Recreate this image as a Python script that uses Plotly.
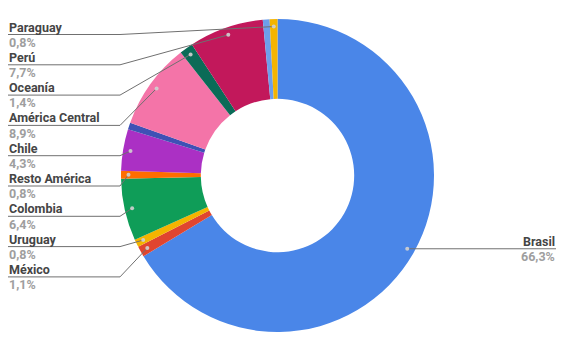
import math
import plotly.graph_objects as go

# ---- data ----
labels = ["Brasil", "México", "Uruguay", "Colombia", "Resto América", "Chile",
          "Otros (1)", "América Central", "Oceanía", "Perú", "Otros (2)", "Paraguay"]
values = [66.3, 1.1, 0.8, 6.4, 0.8, 4.3, 0.7, 8.9, 1.4, 7.7, 0.7, 0.8]
show_label = [True, True, True, True, True, True, False, True, True, True, False, True]
colors = ["#4a86e8", "#e0452f", "#f4b400", "#0f9d58", "#ff6d00", "#ab30c4",
          "#3f51b5", "#f474a8", "#0b6b57", "#c2185b", "#6d9eeb", "#f4b400"]

W, H = 568, 341
CX, CY, R = 277.5, 175.5, 156.5
HOLE = 0.49
DOT_R = 149

fig = go.Figure()
fig.add_trace(go.Pie(
    labels=labels, values=values, sort=False, direction="clockwise", rotation=0,
    hole=HOLE, marker=dict(colors=colors, line=dict(width=0)),
    textinfo="none", hoverinfo="label+percent", showlegend=False,
    domain=dict(x=[(CX - R) / W, (CX + R) / W], y=[(H - CY - R) / H, (H - CY + R) / H]),
))

# invisible pixel axes for overlay
fig.add_trace(go.Scatter(x=[0, W], y=[0, H], mode="markers", marker=dict(opacity=0),
                         hoverinfo="skip", showlegend=False))

total = sum(values)
cum = 0.0
dots = []
for lab, v, sh in zip(labels, values, show_label):
    frac = (cum + v / 2) / total
    th = 2 * math.pi * frac
    dots.append((lab, v, sh, CX + DOT_R * math.sin(th), CY - DOT_R * math.cos(th)))
    cum += v

def pct(v):
    return f"{v:.1f}".replace(".", ",") + "%"

shapes = []
annotations = []
LINE = "#707070"
NAME_C = "#454545"
PCT_C = "#9e9e9e"
FONT = "Roboto"
FS = 12.5
N_OFF, P_OFF = -7.5, 7.8

left = [d for d in dots if d[2] and d[3] < CX]
right = [d for d in dots if d[2] and d[3] >= CX]
left.sort(key=lambda d: d[4])

def add_label(x, ly, anchor, lab, v):
    annotations.append(dict(x=x, y=ly + N_OFF, xref="x", yref="y", xanchor=anchor, yanchor="middle",
                            text=f"<b>{lab}</b>", showarrow=False, borderpad=0,
                            font=dict(family=FONT, size=FS, color=NAME_C)))
    annotations.append(dict(x=x, y=ly + P_OFF, xref="x", yref="y", xanchor=anchor, yanchor="middle",
                            text=f"<b>{pct(v)}</b>", showarrow=False, borderpad=0,
                            font=dict(family=FONT, size=FS, color=PCT_C)))

for i, (lab, v, sh, dx, dy) in enumerate(left):
    ly = 34.5 + 30.3 * i
    bend = min(120, dx - 8)
    shapes.append(dict(type="path", xref="x", yref="y",
                       path=f"M 8 {ly} L {bend} {ly} L {dx} {dy}",
                       line=dict(color=LINE, width=1)))
    add_label(8, ly, "left", lab, v)

for lab, v, sh, dx, dy in right:
    ly = dy
    shapes.append(dict(type="path", xref="x", yref="y",
                       path=f"M {dx} {dy} L 556 {ly}",
                       line=dict(color=LINE, width=1)))
    add_label(556, ly, "right", lab, v)

for lab, v, sh, dx, dy in dots:
    if sh:
        shapes.append(dict(type="circle", xref="x", yref="y",
                           x0=dx - 2, x1=dx + 2, y0=dy - 2, y1=dy + 2,
                           fillcolor="rgba(210,210,210,0.9)", line=dict(width=0)))

fig.update_layout(
    width=W, height=H, margin=dict(l=0, r=0, t=0, b=0),
    paper_bgcolor="white", plot_bgcolor="rgba(0,0,0,0)",
    xaxis=dict(range=[0, W], visible=False, fixedrange=True),
    yaxis=dict(range=[H, 0], visible=False, fixedrange=True),
    shapes=shapes, annotations=annotations,
    font=dict(family=FONT),
)

fig.write_html("out.html")
